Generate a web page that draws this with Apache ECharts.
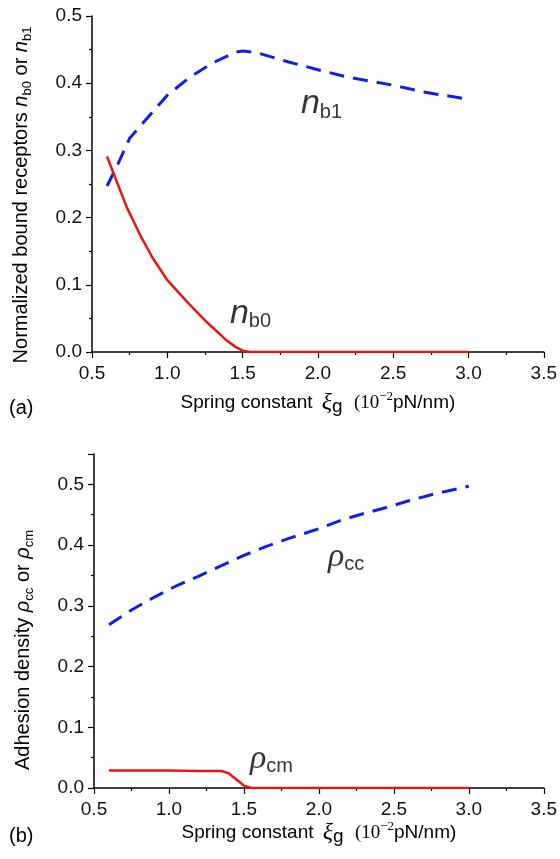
<!DOCTYPE html>
<html>
<head>
<meta charset="utf-8">
<script src="https://cdn.jsdelivr.net/npm/echarts@6/dist/echarts.min.js"></script>
<style>
  html, body { margin: 0; padding: 0; background: #fff; }
  #chart { width: 560px; height: 859px; }
</style>
</head>
<body>
<div id="chart"></div>
<script>
// (a) normalized bound receptors
var nb1X = [0.6, 0.675, 0.75, 0.875, 1.0, 1.15, 1.3, 1.45, 1.5, 1.6, 1.8, 2.0, 2.2, 2.5, 2.7, 3.0]
var nb1Y = [0.247, 0.281, 0.318, 0.350, 0.382, 0.409, 0.430, 0.446, 0.448, 0.445, 0.432, 0.420, 0.409, 0.397, 0.387, 0.376]
var nb0X = [0.6, 0.65, 0.73, 0.82, 0.9, 1.0, 1.13, 1.26, 1.39, 1.45, 1.5, 1.55, 2.0, 2.5, 3.0]
var nb0Y = [0.291, 0.262, 0.216, 0.174, 0.141, 0.107, 0.075, 0.045, 0.018, 0.008, 0.002, 0, 0, 0, 0]

// (b) adhesion density
var rhoccX = [0.6, 0.75, 0.9, 1.05, 1.2, 1.35, 1.5, 1.65, 1.8, 2.0, 2.15, 2.3, 2.45, 2.6, 2.75, 3.0]
var rhoccY = [0.269, 0.293, 0.314, 0.333, 0.349, 0.366, 0.383, 0.398, 0.411, 0.427, 0.441, 0.452, 0.462, 0.473, 0.483, 0.497]
var rhocmX = [0.6, 0.8, 1.0, 1.2, 1.35, 1.4, 1.45, 1.5, 1.55, 1.6, 2.0, 2.5, 3.0]
var rhocmY = [0.029, 0.029, 0.029, 0.028, 0.028, 0.024, 0.014, 0.004, 0, 0, 0, 0, 0]

var xTicks = [0.5, 1.0, 1.5, 2.0, 2.5, 3.0, 3.5]

function zip (xs, ys) {
  return xs.map(function (x, i) { return [x, ys[i]] })
}

var SANS = 'Liberation Sans, Arial, sans-serif'
var SERIF = 'Liberation Serif, Times New Roman, serif'
var RED = '#f01212'
var BLUE = '#1020e2'

var xName = '{t|Spring constant }{xi|ξ}{sub|g}{t| }{se|(10}{sup|−2}{t|pN/nm)}'
var xRich = {
  t: { fontFamily: SANS, fontSize: 19, color: '#000', lineHeight: 26, verticalAlign: 'middle' },
  xi: { fontFamily: SERIF, fontStyle: 'italic', fontSize: 24, color: '#000', lineHeight: 26, verticalAlign: 'middle', padding: [0, 0, 0, 4] },
  sub: { fontFamily: SANS, fontSize: 19, color: '#000', lineHeight: 14, verticalAlign: 'bottom', padding: [0, 6, 0, 0] },
  se: { fontFamily: SERIF, fontSize: 19, color: '#000', lineHeight: 26, verticalAlign: 'middle' },
  sup: { fontFamily: SERIF, fontSize: 13, color: '#000', lineHeight: 12, verticalAlign: 'top' }
}

function yRich () {
  return {
    t: { fontFamily: SANS, fontSize: 20, color: '#000', lineHeight: 26, verticalAlign: 'middle' },
    it: { fontFamily: SANS, fontStyle: 'italic', fontSize: 20, color: '#000', lineHeight: 26, verticalAlign: 'middle' },
    sub: { fontFamily: SANS, fontSize: 13, color: '#000', lineHeight: 10, verticalAlign: 'bottom' }
  }
}

var labelRich = {
  n: { fontFamily: SANS, fontStyle: 'italic', fontSize: 34, color: '#000', lineHeight: 36, verticalAlign: 'middle' },
  rho: { fontFamily: SERIF, fontStyle: 'italic', fontSize: 34, color: '#000', lineHeight: 36, verticalAlign: 'middle' },
  sub: { fontFamily: SANS, fontSize: 20, color: '#000', lineHeight: 16, verticalAlign: 'bottom' }
}

function xAxisFor (grid, gap) {
  return {
    type: 'value',
    gridIndex: grid,
    min: xTicks[0],
    max: xTicks[xTicks.length - 1],
    interval: 0.5,
    axisLine: { show: true, onZero: false, lineStyle: { color: '#000', width: 1.5 } },
    axisTick: { show: true, length: 6, lineStyle: { color: '#000', width: 1.2 } },
    minorTick: { show: true, splitNumber: 2, length: 3, lineStyle: { color: '#000', width: 1.2 } },
    splitLine: { show: false },
    axisLabel: { fontFamily: SANS, fontSize: 19, color: '#111', margin: 12,
      formatter: function (v) { return v.toFixed(1) } },
    name: xName,
    nameLocation: 'middle',
    nameGap: gap,
    nameTextStyle: { rich: xRich }
  }
}

function yAxisFor (grid, max, name, pad) {
  return {
    type: 'value',
    gridIndex: grid,
    min: 0,
    max: max,
    interval: 0.1,
    axisLine: { show: true, lineStyle: { color: '#000', width: 1.5 } },
    axisTick: { show: true, length: 6, lineStyle: { color: '#000', width: 1.2 } },
    minorTick: { show: true, splitNumber: 2, length: 3, lineStyle: { color: '#000', width: 1.2 } },
    splitLine: { show: false },
    axisLabel: { fontFamily: SANS, fontSize: 19, color: '#111', margin: 10, showMaxLabel: max === 0.5,
      formatter: function (v) { return Math.abs(v * 10 - Math.round(v * 10)) < 1e-6 ? v.toFixed(1) : '' } },
    name: name,
    nameLocation: 'middle',
    nameGap: 58,
    nameRotate: 90,
    nameTextStyle: { rich: yRich(), padding: pad }
  }
}

function curve (grid, data, color, dashed, width) {
  return {
    type: 'line',
    xAxisIndex: grid,
    yAxisIndex: grid,
    data: data,
    showSymbol: false,
    silent: true,
    lineStyle: { color: color, width: width, type: dashed ? [15, 9] : 'solid' }
  }
}

function tag (grid, x, y, text) {
  return {
    type: 'scatter',
    xAxisIndex: grid,
    yAxisIndex: grid,
    symbolSize: 0,
    silent: true,
    data: [[x, y]],
    label: { show: true, position: 'right', distance: 0, formatter: text, rich: labelRich }
  }
}

var option = {
  animation: false,
  backgroundColor: '#fff',
  grid: [
    { left: 92, right: 16, top: 16, height: 336 },
    { left: 94, right: 16, top: 454, height: 334 }
  ],
  xAxis: [xAxisFor(0, 38), xAxisFor(1, 28)],
  yAxis: [
    yAxisFor(0, 0.5, '{t|Normalized bound receptors }{it|n}{sub|b0}{t| or }{it|n}{sub|b1}', [0, 22, 0, 0]),
    yAxisFor(1, 0.55, '{t|Adhesion density }{it|ρ}{sub|cc}{t| or }{it|ρ}{sub|cm}', [0, 58, 0, 0])
  ],
  series: [
    curve(0, zip(nb1X, nb1Y), BLUE, true, 3),
    curve(0, zip(nb0X, nb0Y), RED, false, 2.5),
    curve(1, zip(rhoccX, rhoccY), BLUE, true, 3),
    curve(1, zip(rhocmX, rhocmY), RED, false, 2.5),
    tag(0, 1.887, 0.369, '{n|n}{sub|b1}'),
    tag(0, 1.416, 0.057, '{n|n}{sub|b0}'),
    tag(1, 2.06, 0.381, '{rho|ρ}{sub|cc}'),
    tag(1, 1.54, 0.048, '{rho|ρ}{sub|cm}')
  ],
  graphic: [
    { type: 'text', left: 9, top: 398, style: { text: '(a)', font: '20px ' + SANS, fill: '#000' } },
    { type: 'text', left: 9, top: 826, style: { text: '(b)', font: '20px ' + SANS, fill: '#000' } }
  ]
}

echarts.init(document.getElementById('chart')).setOption(option)
</script>
</body>
</html>
